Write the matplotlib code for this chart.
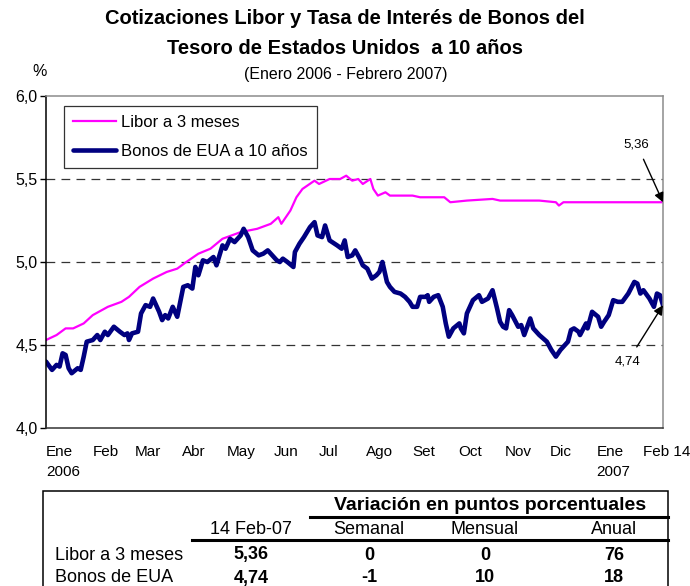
import numpy as np
import pandas as pd
import matplotlib
matplotlib.use('Agg')
import matplotlib.pyplot as plt
from matplotlib.ticker import FuncFormatter
from matplotlib.lines import Line2D
from matplotlib.patches import Rectangle

plt.rcParams['font.family'] = ['Liberation Sans', 'DejaVu Sans']

# dias desde el 1 de enero de 2006
dias_libor = [0, 7, 13, 18, 25, 31, 41, 50, 55, 62, 71, 80, 87, 93, 101, 109, 117,
              129, 140, 149, 154, 156, 162, 166, 170, 178, 181, 188, 195, 199, 203,
              207, 210, 215, 217, 220, 225, 228, 243, 248, 264, 268, 279, 296, 301,
              327, 338, 340, 343, 409]
libor = [4.53, 4.56, 4.60, 4.60, 4.63, 4.68, 4.73, 4.76, 4.79, 4.85, 4.90, 4.94, 4.96,
         5.00, 5.05, 5.08, 5.14, 5.18, 5.20, 5.23, 5.27, 5.23, 5.31, 5.39, 5.44, 5.49,
         5.47, 5.50, 5.50, 5.52, 5.49, 5.50, 5.47, 5.50, 5.44, 5.40, 5.42, 5.40, 5.40,
         5.39, 5.39, 5.36, 5.37, 5.38, 5.37, 5.37, 5.36, 5.34, 5.36, 5.36]

dias_bonos = [0, 4, 7, 9, 11, 13, 15, 17, 21, 23, 25, 27, 31, 34, 36, 39, 41, 45, 49,
              52, 54, 55, 57, 61, 63, 66, 69, 71, 73, 75, 77, 79, 81, 84, 87, 89, 91,
              94, 97, 99, 101, 104, 107, 111, 113, 117, 119, 122, 125, 129, 131, 134,
              137, 141, 144, 147, 150, 153, 155, 157, 160, 164, 165, 168, 171, 175,
              178, 180, 183, 185, 188, 193, 196, 198, 200, 203, 205, 208, 210, 213,
              216, 219, 221, 223, 226, 228, 231, 235, 238, 241, 243, 246, 248, 252,
              253, 254, 257, 260, 263, 265, 267, 270, 274, 275, 277, 279, 283, 287,
              289, 293, 296, 299, 301, 303, 305, 307, 309, 313, 315, 317, 321, 323,
              327, 332, 335, 338, 341, 344, 346, 348, 350, 353, 354, 358, 359, 362,
              366, 368, 370, 373, 376, 379, 382, 386, 390, 392, 394, 396, 400, 403,
              405, 407, 409]
bonos = [4.40, 4.35, 4.38, 4.37, 4.45, 4.44, 4.36, 4.33, 4.36, 4.35, 4.43, 4.52, 4.53,
         4.56, 4.53, 4.58, 4.56, 4.61, 4.58, 4.56, 4.57, 4.53, 4.57, 4.58, 4.69, 4.74,
         4.73, 4.78, 4.74, 4.70, 4.65, 4.68, 4.66, 4.73, 4.67, 4.76, 4.85, 4.86, 4.84,
         4.97, 4.92, 5.01, 5.00, 5.03, 4.98, 5.10, 5.08, 5.14, 5.12, 5.16, 5.20, 5.15,
         5.07, 5.04, 5.05, 5.07, 5.04, 5.01, 5.00, 5.02, 5.00, 4.97, 5.06, 5.11, 5.15,
         5.21, 5.24, 5.16, 5.15, 5.22, 5.13, 5.10, 5.08, 5.13, 5.03, 5.04, 5.07, 5.02,
         4.98, 4.96, 4.90, 4.92, 4.94, 5.00, 4.88, 4.85, 4.82, 4.81, 4.79, 4.76, 4.73,
         4.73, 4.79, 4.79, 4.80, 4.76, 4.79, 4.80, 4.73, 4.63, 4.55, 4.60, 4.63, 4.60,
         4.57, 4.69, 4.77, 4.80, 4.76, 4.78, 4.83, 4.72, 4.64, 4.61, 4.60, 4.71, 4.68,
         4.61, 4.62, 4.56, 4.66, 4.60, 4.56, 4.52, 4.47, 4.43, 4.47, 4.50, 4.52, 4.59,
         4.60, 4.58, 4.56, 4.63, 4.60, 4.70, 4.67, 4.61, 4.64, 4.68, 4.77, 4.76, 4.76,
         4.81, 4.88, 4.87, 4.81, 4.83, 4.78, 4.73, 4.81, 4.80, 4.74]

inicio_meses = [0, 31, 59, 90, 120, 151, 181, 212, 243, 273, 304, 334, 365, 396]
meses = ['Ene', 'Feb', 'Mar', 'Abr', 'May', 'Jun', 'Jul', 'Ago', 'Set', 'Oct',
         'Nov', 'Dic', 'Ene', 'Feb 14']
anios = {0: '2006', 365: '2007'}

tabla_cols = ['14 Feb-07', 'Semanal', 'Mensual', 'Anual']
tabla_filas = ['Libor a 3 meses', 'Bonos de EUA']
tabla_vals = [['5,36', '0', '0', '76'],
              ['4,74', '-1', '10', '18']]

W, H = 690, 586
fig = plt.figure(figsize=(W / 100, H / 100), dpi=100)


def fx(x):
    return x / W


def fy(y):
    return 1 - y / H


ax = fig.add_axes([fx(46), fy(428), fx(663) - fx(46), fy(96) - fy(428)])

ax.plot(dias_libor, libor, color='#FF00FF', lw=1.6, label='Libor a 3 meses',
        solid_joinstyle='round')
ax.plot(dias_bonos, bonos, color='#000080', lw=3.3, label='Bonos de EUA a 10 años',
        solid_joinstyle='round', solid_capstyle='round')

ax.set_xlim(0, 409)
ax.set_ylim(4.0, 6.0)
ax.set_yticks([4.0, 4.5, 5.0, 5.5, 6.0])
ax.yaxis.set_major_formatter(FuncFormatter(lambda v, p: f'{v:.1f}'.replace('.', ',')))
for v in [4.5, 5.0, 5.5]:
    ax.axhline(v, color='#333333', lw=0.9, dashes=(7, 5), zorder=0)

ax.set_xticks(inicio_meses)
ax.set_xticklabels(meses, ha='left', va='baseline', fontsize=11)
ax.tick_params(axis='x', length=0, pad=20)
ax.tick_params(axis='y', length=4, width=1, labelsize=11.5, direction='out', pad=2)
for d, a in anios.items():
    ax.text(d, -0.145, a, transform=ax.get_xaxis_transform(), ha='left',
            va='baseline', fontsize=11)

ax.spines['left'].set_color('black')
ax.spines['bottom'].set_color('#333333')
ax.spines['top'].set_color('#8c8c8c')
ax.spines['right'].set_color('#8c8c8c')
for s in ax.spines.values():
    s.set_linewidth(1.1)

leg = ax.legend(loc='upper left', bbox_to_anchor=(0.029, 0.97), fontsize=12,
                frameon=True, fancybox=False, edgecolor='black', handlelength=2.6,
                labelspacing=0.85, borderpad=0.55, handletextpad=0.3,
                borderaxespad=0)
leg.get_frame().set_linewidth(0.9)

ax.annotate('5,36', xy=(409, 5.36), xytext=(391.5, 5.71), fontsize=9.5,
            ha='center', va='center',
            arrowprops=dict(arrowstyle='-|>', color='black', lw=1, shrinkA=5,
                            shrinkB=0, mutation_scale=14))
ax.annotate('4,74', xy=(409, 4.74), xytext=(385.5, 4.40), fontsize=9.5,
            ha='center', va='center',
            arrowprops=dict(arrowstyle='-|>', color='black', lw=1, shrinkA=5,
                            shrinkB=0, mutation_scale=14))

# titulos
fig.text(fx(345), fy(19), 'Cotizaciones Libor y Tasa de Interés de Bonos del',
         ha='center', va='center', fontsize=14.5, fontweight='bold')
fig.text(fx(345), fy(48), 'Tesoro de Estados Unidos  a 10 años',
         ha='center', va='center', fontsize=14.5, fontweight='bold')
fig.text(fx(346), fy(75), '(Enero 2006 - Febrero 2007)',
         ha='center', va='center', fontsize=11.5)
fig.text(fx(40), fy(71), '%', ha='center', va='center', fontsize=11.5)

# tabla
fig.add_artist(Rectangle((fx(43), fy(620)), fx(668) - fx(43), fy(491) - fy(620),
                         transform=fig.transFigure, fill=False, edgecolor='black',
                         lw=1.1))
fig.text(fx(490), fy(505), 'Variación en puntos porcentuales', ha='center',
         va='center', fontsize=14, fontweight='bold')
fig.add_artist(Line2D([fx(310), fx(668)], [fy(517), fy(517)],
                      transform=fig.transFigure, color='black', lw=2.2))
fig.add_artist(Line2D([fx(192), fx(668)], [fy(540), fy(540)],
                      transform=fig.transFigure, color='black', lw=2.2))

col_x = [251, 369, 485, 614]
for cx, c in zip(col_x, tabla_cols):
    fig.text(fx(cx), fy(529), c, ha='center', va='center', fontsize=13)
fila_y = [555, 578]
for ry, fila, vals in zip(fila_y, tabla_filas, tabla_vals):
    fig.text(fx(55), fy(ry), fila, ha='left', va='center', fontsize=13)
    for cx, v in zip(col_x, vals):
        fig.text(fx(cx), fy(ry), v, ha='center', va='center', fontsize=13,
                 fontweight='bold')

fig.savefig('out.png', dpi=100)
